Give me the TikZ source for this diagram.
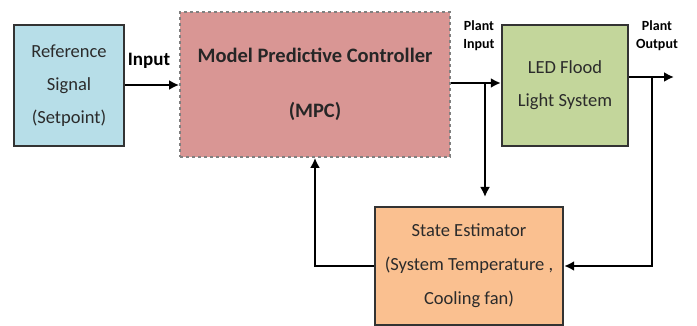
\documentclass[tikz,border=0pt]{standalone}
\usepackage{fontspec}
\setmainfont{Carlito}
\usepackage{tikz}
\usetikzlibrary{arrows.meta}
\definecolor{refblue}{HTML}{B7DEE8}
\definecolor{mpcred}{HTML}{D99694}
\definecolor{ledgreen}{HTML}{C3D69B}
\definecolor{estorange}{HTML}{FAC090}
\definecolor{textdark}{HTML}{2B2B2B}
\tikzstyle{box}=[rectangle, draw=black!80, line width=2.4pt, inner sep=0pt, align=center, text=textdark, font=\fontsize{18.5}{33}\selectfont, anchor=center]
\tikzstyle{annot}=[align=center, font=\bfseries\fontsize{14}{18}\selectfont]
\tikzstyle{conn}=[line width=2.8pt, line join=miter, -{Latex[length=10pt,width=10pt]}]

\begin{document}
\begin{tikzpicture}[x=1pt,y=-1pt]
	\useasboundingbox (0,0) rectangle (697,326);

	\node[box, minimum width=110pt, minimum height=121pt, fill=refblue](ref) at (69,85.5){Reference\\Signal\\(Setpoint)};
	\node[box, minimum width=270pt, minimum height=145pt, fill=mpcred, draw=black!50, dashed, line width=1.8pt, font=\bfseries\fontsize{20.5}{55}\selectfont, text=black!85](mpc) at (315,84.5){Model Predictive Controller\\(MPC)};
	\node[box, minimum width=126pt, minimum height=121pt, fill=ledgreen](led) at (565,85.5){LED Flood\\Light System};
	\node[box, minimum width=188pt, minimum height=118pt, fill=estorange, font=\fontsize{18.5}{34}\selectfont](est) at (469,266){State Estimator\\(System Temperature ,\\Cooling fan)};

	\coordinate (pin) at (485,83);
	\coordinate (pindown) at (485,197);
	\coordinate (pout) at (652,77);
	\coordinate (poutend) at (674,77);

	% forward path
	\draw[conn] (ref.east |- 0,85) -- (mpc.west |- 0,85);
	\draw[conn] (mpc.east |- pin) -- (led.west |- pin);
	\draw[conn] (led.east |- pout) -- (poutend);
	% feedback path
	\draw[conn] (pin) -- (pindown);
	\draw[conn] (pout) |- (est.east);
	\draw[conn] (est.west) -| (mpc.south);

	\node[annot, font=\bfseries\fontsize{19}{22}\selectfont](inlabel) at (149,61){Input};
	\node[annot](pinlabel) at (479,36){Plant\\Input};
	\node[annot](poutlabel) at (657,36){Plant\\Output};
\end{tikzpicture}
\end{document}
